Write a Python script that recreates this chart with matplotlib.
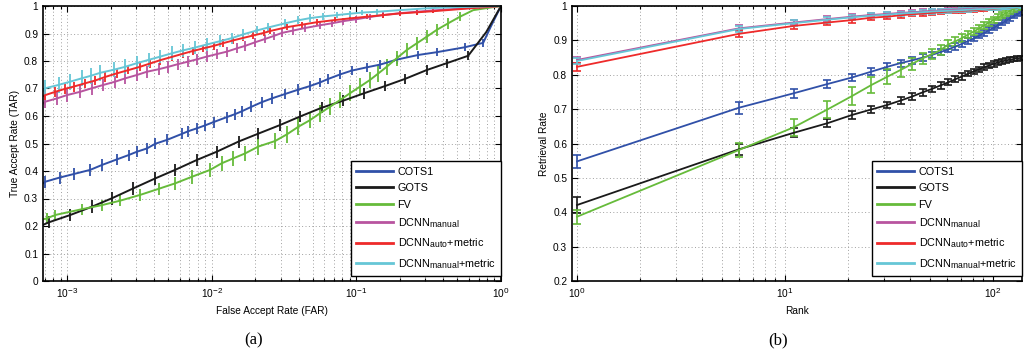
import numpy as np
import matplotlib
matplotlib.use('Agg')
import matplotlib.pyplot as plt
from matplotlib.ticker import LogLocator, NullFormatter
try:
    import matplotlib._mathtext as _mt
    _mt.SHRINK_FACTOR = 0.8
except Exception:
    pass

plt.rcParams['font.family'] = ['Liberation Sans', 'DejaVu Sans']
plt.rcParams['mathtext.fontset'] = 'custom'
plt.rcParams['mathtext.rm'] = 'Liberation Sans'
plt.rcParams['mathtext.it'] = 'Liberation Sans'
plt.rcParams['mathtext.default'] = 'regular'

# ---------------- data: (a) ROC ----------------
far_cots = [6.8e-4, 7.05e-4, 8.85e-4, 1.11e-3, 1.44e-3, 1.74e-3, 2.20e-3, 2.66e-3, 3.03e-3, 3.56e-3,
            4.06e-3, 4.89e-3, 6.21e-3, 6.89e-3, 7.87e-3, 8.99e-3, 1.03e-2, 1.27e-2, 1.45e-2, 1.61e-2,
            1.87e-2, 2.21e-2, 2.60e-2, 3.21e-2, 3.97e-2, 4.78e-2, 5.60e-2, 6.40e-2, 7.70e-2, 9.27e-2,
            0.118, 0.146, 0.190, 0.268, 0.359, 0.562, 0.753, 0.85, 1.0]
tar_cots = [0.355, 0.361, 0.376, 0.389, 0.404, 0.422, 0.442, 0.458, 0.470, 0.482,
            0.499, 0.513, 0.535, 0.545, 0.555, 0.566, 0.578, 0.596, 0.607, 0.617,
            0.633, 0.650, 0.664, 0.680, 0.696, 0.709, 0.722, 0.735, 0.751, 0.765,
            0.777, 0.787, 0.805, 0.822, 0.832, 0.850, 0.866, 0.925, 1.0]
err_cots = [0, 0.022, 0.022, 0.021, 0.021, 0.021, 0.02, 0.02, 0.02, 0.02,
            0.02, 0.02, 0.02, 0.02, 0.02, 0.02, 0.02, 0.02, 0.02, 0.02,
            0.02, 0.02, 0.019, 0.019, 0.019, 0.018, 0.018, 0.018, 0.017, 0.017,
            0.016, 0.016, 0.016, 0.015, 0.015, 0.014, 0.014, 0, 0]

far_gots = [6.8e-4, 7.43e-4, 1.05e-3, 1.48e-3, 2.04e-3, 2.87e-3, 4.06e-3, 5.57e-3, 7.87e-3, 1.08e-2,
            1.53e-2, 2.10e-2, 2.96e-2, 4.07e-2, 5.75e-2, 8.13e-2, 0.112, 0.158, 0.217, 0.306,
            0.421, 0.593, 0.79, 1.0]
tar_gots = [0.204, 0.213, 0.240, 0.270, 0.301, 0.337, 0.373, 0.404, 0.440, 0.470,
            0.507, 0.536, 0.567, 0.598, 0.630, 0.656, 0.682, 0.709, 0.735, 0.767,
            0.792, 0.819, 0.905, 1.0]
err_gots = [0, 0.022, 0.023, 0.023, 0.023, 0.023, 0.023, 0.023, 0.023, 0.022,
            0.022, 0.022, 0.021, 0.021, 0.02, 0.02, 0.019, 0.019, 0.018, 0.017,
            0.016, 0.016, 0, 0]

far_fv = [6.8e-4, 7.23e-4, 8.26e-4, 1.26e-3, 1.74e-3, 2.32e-3, 3.19e-3, 4.28e-3, 5.57e-3, 7.28e-3,
          9.73e-3, 1.17e-2, 1.41e-2, 1.70e-2, 2.10e-2, 2.74e-2, 3.30e-2, 3.97e-2, 4.78e-2, 5.60e-2,
          6.58e-2, 7.71e-2, 9.04e-2, 0.106, 0.124, 0.142, 0.162, 0.190, 0.223, 0.261,
          0.306, 0.359, 0.431, 0.520, 0.643, 1.0]
tar_fv = [0.224, 0.228, 0.240, 0.261, 0.276, 0.292, 0.313, 0.335, 0.355, 0.379,
          0.404, 0.428, 0.446, 0.464, 0.489, 0.509, 0.533, 0.561, 0.585, 0.610,
          0.634, 0.658, 0.683, 0.707, 0.731, 0.755, 0.779, 0.810, 0.840, 0.864,
          0.888, 0.913, 0.937, 0.961, 0.985, 1.0]
err_fv = [0, 0.02, 0.02, 0.02, 0.02, 0.021, 0.022, 0.023, 0.024, 0.025,
          0.026, 0.027, 0.028, 0.028, 0.029, 0.03, 0.03, 0.03, 0.03, 0.03,
          0.03, 0.03, 0.03, 0.03, 0.03, 0.03, 0.029, 0.028, 0.027, 0.025,
          0.023, 0.021, 0.019, 0.017, 0, 0]

far_dm = [6.8e-4, 7.05e-4, 8.49e-4, 9.95e-4, 1.23e-3, 1.48e-3, 1.78e-3, 2.15e-3, 2.52e-3, 3.03e-3,
          3.56e-3, 4.28e-3, 5.01e-3, 5.87e-3, 6.89e-3, 7.87e-3, 9.23e-3, 1.08e-2, 1.27e-2, 1.49e-2,
          1.70e-2, 1.99e-2, 2.33e-2, 2.68e-2, 3.05e-2, 3.66e-2, 4.42e-2, 5.60e-2, 6.75e-2, 8.13e-2,
          0.100, 0.124, 0.153, 0.200, 0.261, 0.340, 0.50, 1.0]
tar_dm = [0.645, 0.652, 0.664, 0.676, 0.688, 0.701, 0.713, 0.725, 0.737, 0.749,
          0.761, 0.770, 0.779, 0.789, 0.798, 0.806, 0.816, 0.825, 0.834, 0.846,
          0.855, 0.868, 0.880, 0.891, 0.902, 0.911, 0.920, 0.930, 0.937, 0.945,
          0.952, 0.960, 0.967, 0.974, 0.979, 0.984, 0.990, 1.0]
err_dm = [0, 0.024, 0.024, 0.024, 0.023, 0.023, 0.023, 0.022, 0.022, 0.022,
          0.021, 0.021, 0.021, 0.02, 0.02, 0.02, 0.019, 0.019, 0.018, 0.018,
          0.017, 0.017, 0.016, 0.016, 0.015, 0.015, 0.014, 0.014, 0.013, 0.013,
          0.012, 0.012, 0.011, 0.011, 0.01, 0.01, 0, 0]

far_da = [6.8e-4, 7.05e-4, 8.26e-4, 9.68e-4, 1.11e-3, 1.33e-3, 1.56e-3, 1.83e-3, 2.20e-3, 2.65e-3,
          3.19e-3, 3.75e-3, 4.40e-3, 5.30e-3, 6.37e-3, 7.46e-3, 8.75e-3, 1.03e-2, 1.20e-2, 1.41e-2,
          1.65e-2, 1.94e-2, 2.28e-2, 2.53e-2, 3.30e-2, 4.19e-2, 5.32e-2, 7.11e-2, 9.04e-2, 0.118,
          0.153, 0.200, 0.261, 0.340, 0.50, 1.0]
tar_da = [0.672, 0.676, 0.688, 0.699, 0.707, 0.719, 0.729, 0.742, 0.755, 0.767,
          0.779, 0.791, 0.803, 0.815, 0.827, 0.837, 0.846, 0.855, 0.865, 0.875,
          0.884, 0.893, 0.902, 0.909, 0.923, 0.932, 0.941, 0.949, 0.955, 0.961,
          0.967, 0.973, 0.977, 0.981, 0.988, 1.0]
err_da = [0, 0.018, 0.018, 0.018, 0.018, 0.017, 0.017, 0.017, 0.017, 0.016,
          0.016, 0.016, 0.016, 0.015, 0.015, 0.015, 0.014, 0.014, 0.014, 0.013,
          0.013, 0.013, 0.012, 0.012, 0.012, 0.011, 0.011, 0.01, 0.01, 0.01,
          0.009, 0.009, 0.009, 0.008, 0, 0]

far_dmm = [6.8e-4, 7.05e-4, 8.71e-4, 1.05e-3, 1.26e-3, 1.45e-3, 1.69e-3, 2.09e-3, 2.52e-3, 3.03e-3,
           3.65e-3, 4.40e-3, 5.30e-3, 6.37e-3, 7.67e-3, 9.23e-3, 1.14e-2, 1.37e-2, 1.65e-2, 2.05e-2,
           2.46e-2, 3.21e-2, 3.97e-2, 4.78e-2, 5.89e-2, 7.31e-2, 9.04e-2, 0.109, 0.138, 0.2,
           0.316, 0.5, 1.0]
tar_dmm = [0.692, 0.701, 0.713, 0.725, 0.737, 0.746, 0.757, 0.768, 0.779, 0.792,
           0.804, 0.816, 0.828, 0.839, 0.849, 0.860, 0.872, 0.883, 0.897, 0.911,
           0.922, 0.937, 0.948, 0.956, 0.962, 0.967, 0.972, 0.976, 0.979, 0.985,
           0.992, 0.996, 1.0]
err_dmm = [0, 0.03, 0.03, 0.029, 0.029, 0.028, 0.028, 0.027, 0.027, 0.026,
           0.026, 0.025, 0.025, 0.024, 0.023, 0.022, 0.021, 0.02, 0.019, 0.018,
           0.017, 0.016, 0.015, 0.014, 0.013, 0.012, 0.011, 0.01, 0.01, 0,
           0, 0, 0]

# ---------------- data: (b) CMC ----------------
ranks = [1, 6, 11, 16, 21, 26, 31, 36, 41, 46, 51, 56, 61, 66, 71, 76, 81, 86, 91, 96,
         101, 106, 111, 116, 121, 126, 131, 136]
ret_cots = [0.548, 0.704, 0.746, 0.773, 0.792, 0.809, 0.823, 0.834, 0.842, 0.850,
            0.858, 0.866, 0.874, 0.882, 0.890, 0.898, 0.906, 0.914, 0.922, 0.930,
            0.937, 0.944, 0.951, 0.958, 0.964, 0.970, 0.976, 0.981]
rerr_cots = [0.018, 0.017, 0.013, 0.012, 0.011, 0.011, 0.010, 0.010, 0.010, 0.010,
             0.009, 0.009, 0.009, 0.009, 0.009, 0.008, 0.008, 0.008, 0.008, 0.008,
             0.007, 0.007, 0.007, 0.007, 0.007, 0.006, 0.006, 0.006]
ret_gots = [0.421, 0.583, 0.631, 0.659, 0.683, 0.699, 0.712, 0.725, 0.737, 0.749,
            0.759, 0.769, 0.778, 0.787, 0.795, 0.803, 0.810, 0.816, 0.822, 0.827,
            0.832, 0.836, 0.839, 0.842, 0.844, 0.846, 0.848, 0.849]
rerr_gots = [0.022, 0.015, 0.013, 0.012, 0.011, 0.011, 0.010, 0.010, 0.010, 0.010,
             0.009, 0.009, 0.009, 0.009, 0.009, 0.008, 0.008, 0.008, 0.008, 0.008,
             0.008, 0.007, 0.007, 0.007, 0.007, 0.007, 0.007, 0.007]
ret_fv = [0.387, 0.581, 0.647, 0.699, 0.738, 0.770, 0.794, 0.814, 0.832, 0.848,
          0.860, 0.872, 0.888, 0.897, 0.907, 0.917, 0.926, 0.935, 0.944, 0.952,
          0.960, 0.967, 0.974, 0.980, 0.986, 0.991, 0.995, 0.999]
rerr_fv = [0.020, 0.020, 0.025, 0.026, 0.026, 0.024, 0.022, 0.020, 0.018, 0.016,
           0.015, 0.014, 0.013, 0.012, 0.012, 0.011, 0.011, 0.010, 0.010, 0.010,
           0.009, 0.009, 0.009, 0.008, 0.008, 0.008, 0.007, 0.007]
ret_dm = [0.843, 0.935, 0.952, 0.962, 0.969, 0.974, 0.977, 0.980, 0.982, 0.984,
          0.986, 0.987, 0.988, 0.989, 0.990, 0.991, 0.992, 0.993, 0.993, 0.994,
          0.995, 0.995, 0.996, 0.996, 0.997, 0.997, 0.998, 0.998]
rerr_dm = [0.010, 0.009, 0.008, 0.008, 0.007, 0.007, 0.007, 0.006, 0.006, 0.006,
           0.006, 0.005, 0.005, 0.005, 0.005, 0.005, 0.005, 0.004, 0.004, 0.004,
           0.004, 0.004, 0.004, 0.004, 0.003, 0.003, 0.003, 0.003]
ret_da = [0.823, 0.919, 0.942, 0.952, 0.959, 0.966, 0.969, 0.973, 0.976, 0.978,
          0.980, 0.982, 0.984, 0.985, 0.986, 0.987, 0.988, 0.989, 0.990, 0.991,
          0.992, 0.993, 0.994, 0.994, 0.995, 0.996, 0.996, 0.997]
rerr_da = [0.012, 0.010, 0.009, 0.008, 0.008, 0.007, 0.007, 0.007, 0.006, 0.006,
           0.006, 0.006, 0.005, 0.005, 0.005, 0.005, 0.005, 0.004, 0.004, 0.004,
           0.004, 0.004, 0.004, 0.003, 0.003, 0.003, 0.003, 0.003]
ret_dmm = [0.840, 0.933, 0.950, 0.960, 0.967, 0.972, 0.975, 0.978, 0.980, 0.982,
           0.984, 0.985, 0.986, 0.987, 0.988, 0.989, 0.990, 0.991, 0.991, 0.992,
           0.993, 0.993, 0.994, 0.994, 0.995, 0.995, 0.996, 0.996]
rerr_dmm = [0.010, 0.009, 0.008, 0.008, 0.007, 0.007, 0.007, 0.006, 0.006, 0.006,
            0.006, 0.005, 0.005, 0.005, 0.005, 0.005, 0.005, 0.004, 0.004, 0.004,
            0.004, 0.004, 0.004, 0.004, 0.003, 0.003, 0.003, 0.003]

labels = ['COTS1', 'GOTS', 'FV', r'DCNN$_{manual}$', r'DCNN$_{auto}$+metric',
          r'DCNN$_{manual}$+metric']
colors = ['#3050A8', '#1a1a1a', '#66BB3A', '#B8549F', '#EE2A2A', '#66C6D6']

roc = [(far_cots, tar_cots, err_cots), (far_gots, tar_gots, err_gots), (far_fv, tar_fv, err_fv),
       (far_dm, tar_dm, err_dm), (far_da, tar_da, err_da), (far_dmm, tar_dmm, err_dmm)]
cmc = [(ret_cots, rerr_cots), (ret_gots, rerr_gots), (ret_fv, rerr_fv),
       (ret_dm, rerr_dm), (ret_da, rerr_da), (ret_dmm, rerr_dmm)]

W, H = 1024, 356
fig = plt.figure(figsize=(W / 100, H / 100), dpi=100)

def frac(x0, y0, x1, y1):
    return [x0 / W, 1 - y1 / H, (x1 - x0) / W, (y1 - y0) / H]

ax1 = fig.add_axes(frac(43, 6, 501, 281))
ax2 = fig.add_axes(frac(572, 6, 1022, 281))

FS = 7.3
grid_kw = dict(color='#a0a0a0', linestyle=(0, (1, 2.5)), linewidth=0.7)

def style(ax):
    ax.set_xscale('log')
    ax.grid(True, which='both', axis='x', **grid_kw)
    ax.grid(True, which='major', axis='y', **grid_kw)
    ax.set_axisbelow(True)
    ax.tick_params(which='both', direction='in', top=True, right=True, labelsize=FS, width=0.8)
    ax.tick_params(which='major', length=4)
    ax.tick_params(which='minor', length=2.2)
    for s in ax.spines.values():
        s.set_linewidth(1.2)
    ax.xaxis.set_minor_locator(LogLocator(base=10, subs=np.arange(2, 10), numticks=20))
    ax.xaxis.set_minor_formatter(NullFormatter())

# (a)
for (fx, ty, er), lab, col in zip(roc, labels, colors):
    ax1.errorbar(fx, ty, yerr=er, color=col, lw=1.4, elinewidth=1.3, capsize=0, label=lab)
style(ax1)
ax1.set_xlim(6.8e-4, 1.0)
ax1.set_ylim(0, 1)
ax1.set_yticks(np.arange(0, 1.01, 0.1))
ax1.set_yticklabels(['0', '0.1', '0.2', '0.3', '0.4', '0.5', '0.6', '0.7', '0.8', '0.9', '1'])
ax1.set_xlabel('False Accept Rate (FAR)', fontsize=FS, labelpad=4)
ax1.set_ylabel('True Accept Rate (TAR)', fontsize=FS, labelpad=3)

# (b)
for (ry, er), lab, col in zip(cmc, labels, colors):
    ax2.errorbar(ranks, ry, yerr=er, color=col, lw=1.3, elinewidth=1.2, capsize=2.6,
                 capthick=1.2, label=lab)
style(ax2)
ax2.set_xlim(0.946, 138)
ax2.set_ylim(0.2, 1)
ax2.set_yticks(np.arange(0.2, 1.01, 0.1))
ax2.set_yticklabels(['0.2', '0.3', '0.4', '0.5', '0.6', '0.7', '0.8', '0.9', '1'])
ax2.set_xlabel('Rank', fontsize=FS, labelpad=4)
ax2.set_ylabel('Retrieval Rate', fontsize=FS, labelpad=3)

for ax in (ax1, ax2):
    handles, labs = ax.get_legend_handles_labels()
    handles = [h[0] for h in handles]
    leg = ax.legend(handles, labs, loc='lower right', bbox_to_anchor=(1.0, 0.018),
                    borderaxespad=0, fontsize=7.8, fancybox=False, framealpha=1,
                    edgecolor='black', handlelength=3.4, handletextpad=0.4,
                    labelspacing=0.6, borderpad=0.5)
    leg.get_frame().set_linewidth(1.0)
    for ln in leg.get_lines():
        ln.set_linewidth(2.0)

fig.text(254 / W, 1 - 340 / H, '(a)', family='Liberation Serif', fontsize=12,
         ha='center', va='center')
fig.text(778 / W, 1 - 340 / H, '(b)', family='Liberation Serif', fontsize=12,
         ha='center', va='center')

fig.savefig('out.png', dpi=100)
